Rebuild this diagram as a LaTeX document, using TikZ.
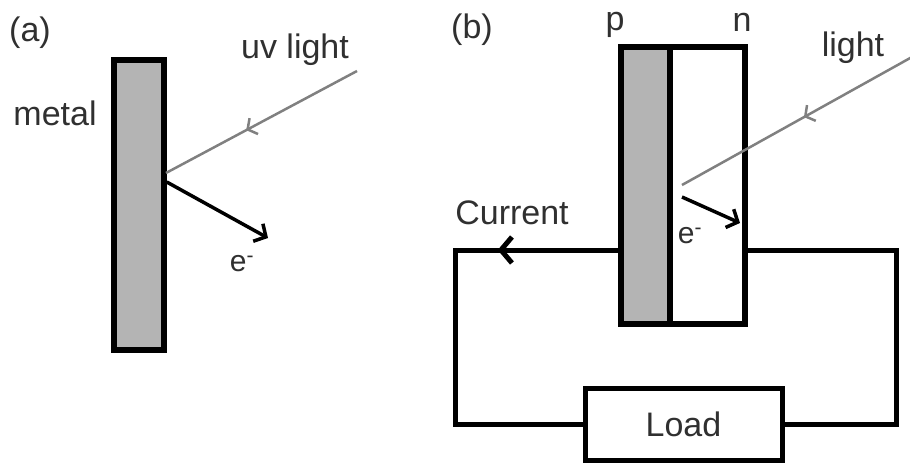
\documentclass[tikz,border=0pt]{standalone}
\usepackage{fontspec}
\setmainfont{Liberation Sans}
\usetikzlibrary{arrows.meta,decorations.markings}
\definecolor{metalgray}{HTML}{B4B4B4}
\definecolor{raygray}{HTML}{808080}
\definecolor{labelgray}{HTML}{303030}

\tikzset{
  slab/.style={draw=black, line width=5.5pt, inner sep=0pt},
  wire/.style={black, line width=5pt},
  lbl/.style={font=\fontsize{34}{40}\selectfont, text=labelgray, inner sep=0pt},
  small lbl/.style={font=\fontsize{30}{34}\selectfont, text=labelgray, inner sep=0pt},
  ray/.style={raygray, line width=2.5pt,
    decoration={markings, mark=at position #1 with {\arrow{Straight Barb[length=7pt,width=18pt]}}},
    postaction={decorate}},
  electron/.style={black, line width=3.5pt, -{Straight Barb[length=9pt,width=20pt]}},
  flow/.style={decoration={markings, mark=at position #1 with {\arrow{Straight Barb[length=11pt,width=26pt]}}},
    postaction={decorate}}
}

\begin{document}
\begin{tikzpicture}[x=1pt, y=-1pt]
  \useasboundingbox (0,0) rectangle (910,465);

  % ---------- (a) metal plate under uv light ----------
  \node[lbl] (taga) at (30,33) {(a)};
  \node[lbl] (metallbl) at (55,113) {metal};
  \node[slab, fill=metalgray, minimum width=50pt, minimum height=290pt] (metal) at (139,205) {};
  \node[lbl] (uvlbl) at (295,50) {uv light};

  \coordinate (srcA) at (357,71);
  \coordinate (hitA) at (166,173);
  \coordinate (eA) at (268,238);
  \draw[ray=0.58] (srcA) -- (hitA);
  \draw[electron] (metal.east |- 0,182) -- (eA);
  \node[small lbl] (elecA) at (242,264) {e\textsuperscript{-}};

  % ---------- (b) p--n junction driving a load ----------
  \node[lbl] (tagb) at (472,30) {(b)};
  \node[lbl] (plbl) at (615,25) {p};
  \node[lbl] (nlbl) at (742,22) {n};
  \node[lbl] (lightlbl) at (853,48) {light};

  \node[slab, fill=white, minimum width=75pt, minimum height=277pt] (ntype) at (707.5,185.5) {};
  \node[slab, fill=metalgray, minimum width=49pt, minimum height=277pt] (ptype) at (645.5,185.5) {};

  \coordinate (srcB) at (912,57);
  \coordinate (hitB) at (682,185);
  \coordinate (eB) at (740,223);
  \draw[ray=0.47] (srcB) -- (hitB);
  \draw[electron] (682,197) -- (eB);
  \node[small lbl] (elecB) at (690,236) {e\textsuperscript{-}};

  % circuit
  \node[slab, line width=5pt, fill=white, minimum width=197pt, minimum height=72pt,
        font=\fontsize{34}{40}\selectfont, text=labelgray] (load) at (683.5,424) {Load};
  \coordinate (wireL) at (455.5,250);
  \coordinate (wireR) at (896,250);
  \draw[wire, flow=0.26] (ptype.west |- wireL) -- (wireL) |- (load.west);
  \draw[wire] (load.east) -| (wireR) -- (ntype.east |- wireR);
  \node[lbl] (curlbl) at (512,213) {Current};
\end{tikzpicture}
\end{document}
